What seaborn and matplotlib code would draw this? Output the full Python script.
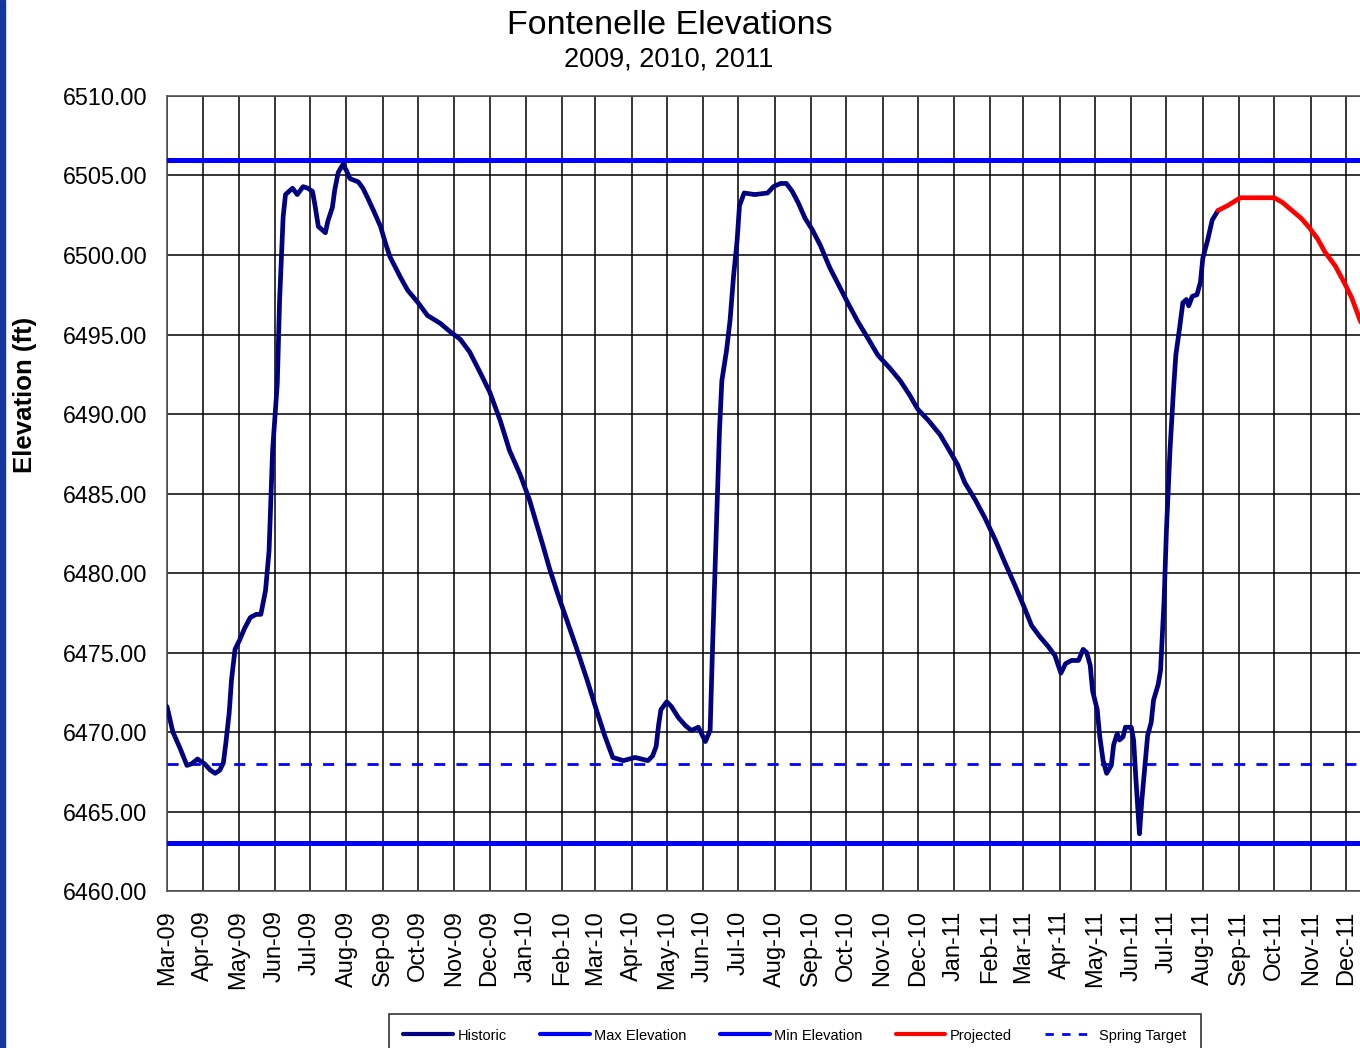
"""Fontenelle reservoir elevations 2009-2011"""
import numpy as np
import pandas as pd
import matplotlib
matplotlib.use('Agg')
import matplotlib.pyplot as plt
import matplotlib.dates as mdates
from matplotlib.patches import Rectangle
import seaborn as sns

# ---- data (days since 2009-03-01, elevation ft) ----
start = pd.Timestamp('2009-03-01')

hist_days = [0, 5, 11, 17, 21, 26, 32, 37, 41, 45, 48, 50, 53, 55, 58, 62, 66, 71, 76, 80,
             84, 87, 90, 94, 96, 99, 101, 104, 107, 111, 116, 120, 124, 126, 129, 132, 135, 137, 141, 143,
             146, 150, 153, 156, 163, 167, 171, 176, 182, 186, 190, 199, 205, 214, 222, 233, 241, 250, 258, 267,
             275, 284, 292, 301, 309, 321, 326, 333, 341, 349, 358, 366, 373, 380, 389, 399, 410, 414, 417, 419,
             421, 426, 430, 436, 442, 447, 453, 459, 463, 465, 468, 471, 473, 477, 480, 483, 486, 488, 492, 501,
             512, 517, 523, 528, 533, 538, 544, 550, 557, 565, 574, 581, 589, 598, 606, 616, 625, 633, 640, 649,
             659, 667, 674, 680, 689, 697, 706, 714, 723, 731, 737, 744, 751, 757, 762, 766, 771, 777, 781, 784,
             787, 789, 793, 795, 798, 801, 805, 807, 810, 812, 815, 817, 822, 824, 826, 829, 831, 834, 836, 839,
             841, 845, 847, 850, 852, 855, 858, 860, 863, 866, 869, 871, 874, 878, 881, 883, 887, 891, 896]
hist_elev = [6471.6, 6470.0, 6469.0, 6467.9, 6468.0, 6468.3, 6468.0, 6467.6, 6467.4, 6467.6,
             6468.05, 6469.2, 6471.2, 6473.3, 6475.2, 6475.8, 6476.5, 6477.2, 6477.4, 6477.4,
             6478.9, 6481.4, 6487.7, 6491.9, 6497.2, 6502.4, 6503.8, 6504.0, 6504.2, 6503.8,
             6504.3, 6504.2, 6504.0, 6503.2, 6501.8, 6501.6, 6501.4, 6502.1, 6503.0, 6504.1,
             6505.2, 6505.7, 6505.3, 6504.8, 6504.6, 6504.2, 6503.6, 6502.8, 6501.8, 6500.8,
             6499.9, 6498.6, 6497.8, 6497.0, 6496.2, 6495.7, 6495.2, 6494.7, 6493.9, 6492.6,
             6491.4, 6489.6, 6487.7, 6486.2, 6484.6, 6481.6, 6480.3, 6478.7, 6477.0, 6475.3,
             6473.3, 6471.4, 6469.8, 6468.4, 6468.2, 6468.4, 6468.2, 6468.5, 6469.1, 6470.4,
             6471.4, 6471.9, 6471.6, 6470.9, 6470.4, 6470.1, 6470.3, 6469.4, 6470.1, 6475.2,
             6482.1, 6489.0, 6492.1, 6494.0, 6495.9, 6498.7, 6500.9, 6503.1, 6503.9, 6503.8,
             6503.9, 6504.3, 6504.5, 6504.5, 6504.0, 6503.3, 6502.3, 6501.6, 6500.6, 6499.2,
             6497.9, 6496.9, 6495.8, 6494.7, 6493.7, 6492.9, 6492.1, 6491.2, 6490.3, 6489.6,
             6488.7, 6487.7, 6486.8, 6485.7, 6484.6, 6483.5, 6482.1, 6480.7, 6479.2, 6477.8,
             6476.7, 6476.0, 6475.4, 6474.8, 6473.7, 6474.3, 6474.5, 6474.5, 6475.2, 6475.0,
             6474.2, 6472.6, 6471.4, 6469.8, 6468.2, 6467.4, 6467.9, 6469.2, 6469.9, 6469.5,
             6469.7, 6470.3, 6470.3, 6469.5, 6467.0, 6463.6, 6465.7, 6468.2, 6469.8, 6470.6,
             6472.0, 6473.0, 6473.9, 6478.3, 6482.7, 6487.7, 6491.5, 6493.7, 6495.3, 6497.0,
             6497.2, 6496.8, 6497.4, 6497.5, 6498.3, 6499.8, 6500.9, 6502.2, 6502.8]

proj_days = [896, 904, 915, 925, 933, 944, 951, 959, 967, 974, 981, 987, 996, 1004, 1010, 1017, 1025]
proj_elev = [6502.8, 6503.1, 6503.6, 6503.6, 6503.6, 6503.6, 6503.3, 6502.8, 6502.3, 6501.7,
             6501.0, 6500.2, 6499.3, 6498.2, 6497.3, 6495.9, 6494.7]

line_days = [0, 1100]
max_elev = 6506.0
min_elev = 6463.0
spring_target = 6468.0

hist = pd.DataFrame({'date': start + pd.to_timedelta(hist_days, unit='D'), 'elev': hist_elev})
proj = pd.DataFrame({'date': start + pd.to_timedelta(proj_days, unit='D'), 'elev': proj_elev})
ref_dates = start + pd.to_timedelta(line_days, unit='D')
refs = pd.DataFrame({'date': list(ref_dates) * 3,
                     'elev': [max_elev] * 2 + [min_elev] * 2 + [spring_target] * 2,
                     'kind': ['Max Elevation'] * 2 + ['Min Elevation'] * 2 + ['Spring Target'] * 2})

# ---- figure ----
sns.set_style('white')
plt.rcParams['font.family'] = ['Liberation Sans', 'DejaVu Sans']
plt.rcParams['text.color'] = 'black'

fig = plt.figure(figsize=(13.6, 10.48), dpi=100)
ax = fig.add_axes([0.1228, 0.1498, 1 - 0.1228, 0.9084 - 0.1498])
ax.set_axisbelow(True)

sns.lineplot(data=hist, x='date', y='elev', ax=ax, color='#000080', lw=3.4, label='Historic', zorder=4)
sns.lineplot(data=refs[refs.kind == 'Max Elevation'], x='date', y='elev', ax=ax, color='#0000ff', lw=3.6,
             label='Max Elevation', zorder=3)
sns.lineplot(data=refs[refs.kind == 'Min Elevation'], x='date', y='elev', ax=ax, color='#0000ff', lw=3.6,
             label='Min Elevation', zorder=3)
sns.lineplot(data=proj, x='date', y='elev', ax=ax, color='#ff0000', lw=3.4, label='Projected', zorder=4)
sns.lineplot(data=refs[refs.kind == 'Spring Target'], x='date', y='elev', ax=ax, color='#0000ff', lw=2,
             dashes=False, label='Spring Target', zorder=3)
ax.lines[-1].set_linestyle((0, (4, 4)))

ax.set_xlim(start, start + pd.Timedelta(days=1017))
ax.set_ylim(6460, 6510)
ax.set_yticks(np.arange(6460, 6511, 5))
ax.yaxis.set_major_formatter(matplotlib.ticker.FormatStrFormatter('%.2f'))
ax.xaxis.set_major_locator(mdates.MonthLocator())
ax.xaxis.set_major_formatter(mdates.DateFormatter('%b-%y'))
ax.tick_params(axis='x', labelsize=17, rotation=90, length=6, width=1, direction='out', pad=8, colors='black')
ax.tick_params(axis='y', labelsize=16.8, length=5, width=1, direction='out', pad=9, colors='black')
ax.grid(True, color='black', lw=1.1)
ax.set_xlabel('')
ax.set_ylabel('')
for s in ['left', 'bottom', 'top']:
    ax.spines[s].set_visible(True)
    ax.spines[s].set_color('#555555')
    ax.spines[s].set_linewidth(1.2)
ax.spines['right'].set_visible(False)

fig.text(670 / 1360, 1 - 26 / 1048, 'Fontenelle Elevations', ha='center', va='center', fontsize=24.5)
fig.text(669 / 1360, 1 - 60 / 1048, '2009, 2010, 2011', ha='center', va='center', fontsize=19.5)
fig.text(25 / 1360, 1 - 395 / 1048, 'Elevation (ft)', ha='center', va='center', rotation=90,
         fontsize=18.5, fontweight='bold')

# left edge stripe
fig.patches.append(Rectangle((0, 0), 5 / 1360, 1, transform=fig.transFigure, color='#13379b', zorder=10))

leg = ax.legend(loc='upper center', bbox_to_anchor=(795 / 1360, 1 - 1014 / 1048), bbox_transform=fig.transFigure,
                ncol=5, fontsize=10.5, frameon=True, fancybox=False, edgecolor='black', handlelength=3.4,
                handletextpad=0.3, columnspacing=2.3, borderpad=1.0, borderaxespad=0)
leg.get_frame().set_linewidth(1.2)
for h in leg.get_lines():
    h.set_linewidth(3)
leg.get_lines()[4].set_linestyle((0, (3, 3)))
leg.get_lines()[4].set_linewidth(2)

fig.savefig('out.png', dpi=100)
